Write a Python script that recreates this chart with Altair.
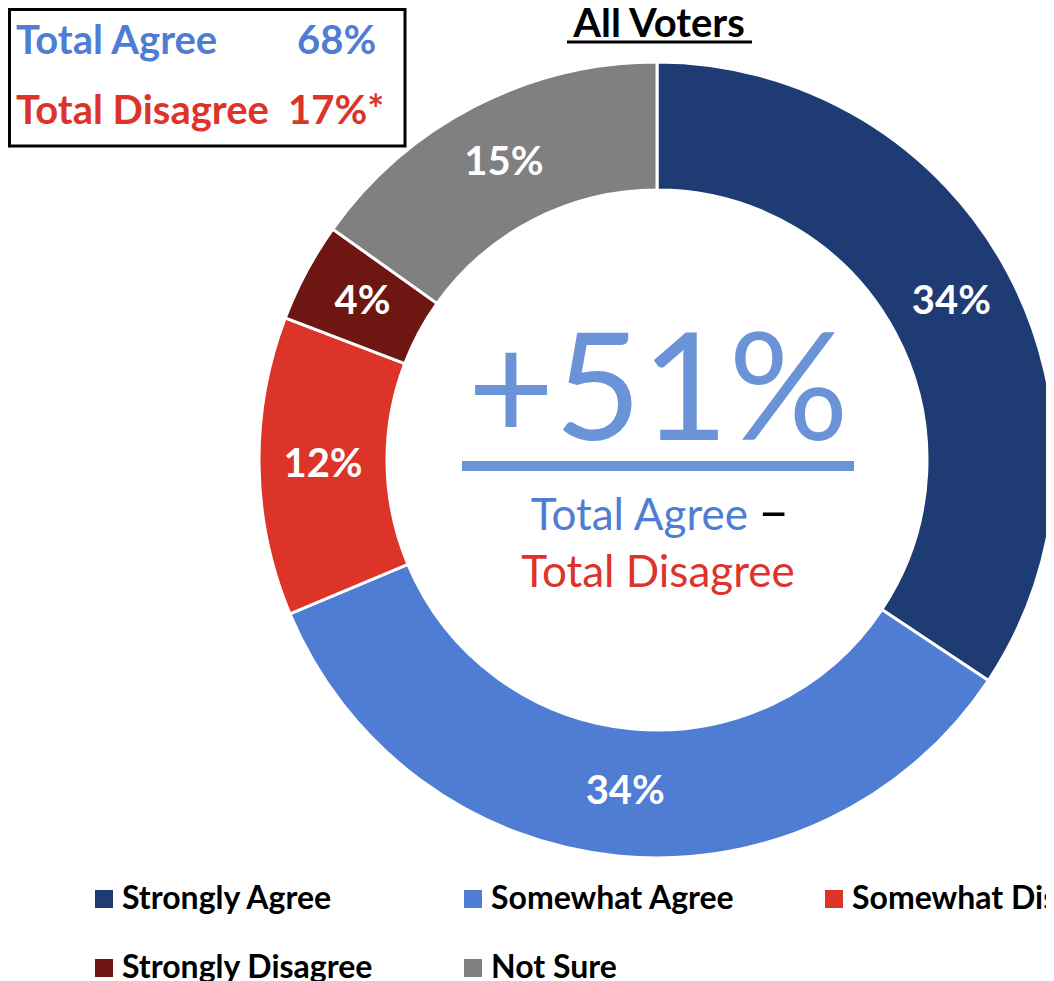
import altair as alt
import pandas as pd

# ---- data ----
categories = ["Strongly Agree", "Somewhat Agree", "Somewhat Disagree", "Strongly Disagree", "Not Sure"]
values = [34, 34, 12, 4, 15]
colors = ["#1F3B73", "#4E7DD3", "#DD3429", "#6E1712", "#808080"]
# legend is laid out column by column: col1 = SA/StD, col2 = SwA/NS, col3 = SwD
legend_order = ["Strongly Agree", "Strongly Disagree", "Somewhat Agree", "Not Sure", "Somewhat Disagree"]

title_text = "All Voters"
box_labels = ["Total Agree", "Total Disagree"]
box_values = ["68%", "17%*"]
net_text = "+51%"
sub_agree = "Total Agree"
sub_dash = "–"
sub_disagree = "Total Disagree"

FONT = "Lato"
BLUE = "#4E7DD3"
LIGHTBLUE = "#6A93D8"
RED = "#DD3429"

df = pd.DataFrame({
    "cat": categories,
    "value": values,
    "idx": list(range(len(categories))),
    "label": [f"{v}%" for v in values],
})

CX, CY = 649, 452

color_scale = alt.Scale(domain=categories, range=colors)

arcs = alt.Chart(df).mark_arc(
    outerRadius=398, innerRadius=270, stroke="white", strokeWidth=3
).encode(
    theta=alt.Theta("value:Q", stack=True),
    order=alt.Order("idx:Q"),
    color=alt.Color(
        "cat:N", scale=color_scale,
        legend=alt.Legend(
            title=None, orient="none", legendX=80, legendY=875,
            values=legend_order,
            columns=3, symbolType="square", symbolSize=324,
            symbolStrokeWidth=0, labelFont=FONT, labelFontSize=32,
            labelFontWeight="bold", labelColor="black", labelOffset=2,
            columnPadding=83, rowPadding=37, labelLimit=400, padding=0,
        ),
    ),
    x=alt.value(CX), y=alt.value(CY),
)

arc_labels = alt.Chart(df).mark_text(
    radius=334, font=FONT, fontSize=40, fontWeight="bold", color="white",
    align="center", baseline="middle",
).encode(
    theta=alt.Theta("value:Q", stack=True),
    order=alt.Order("idx:Q"),
    text="label:N",
    x=alt.value(CX), y=alt.value(CY),
)


def txt(text, x, y, size, color, weight="normal", align="left"):
    return alt.Chart(pd.DataFrame({"t": [text]})).mark_text(
        font=FONT, fontSize=size, fontWeight=weight, color=color,
        align=align, baseline="alphabetic",
    ).encode(text="t:N", x=alt.value(x), y=alt.value(y))


def rule(x1, x2, y, w, color):
    return alt.Chart(pd.DataFrame({"a": [0]})).mark_rule(
        color=color, strokeWidth=w
    ).encode(x=alt.value(x1), x2=alt.value(x2), y=alt.value(y))


title = txt(title_text, 651, 29, 40, "black", "bold", "center")
title_ul = rule(559, 744, 34, 3, "black")

box = alt.Chart(pd.DataFrame({"a": [0]})).mark_rect(
    fill="white", stroke="black", strokeWidth=3
).encode(x=alt.value(1.5), x2=alt.value(397), y=alt.value(1.5), y2=alt.value(138))

b1 = txt(box_labels[0], 8, 46, 40, BLUE, "bold")
b2 = txt(box_values[0], 289, 46, 40, BLUE, "bold")
b3 = txt(box_labels[1], 8, 116, 40, RED, "bold")
b4 = txt(box_values[1], 280, 116, 40, RED, "bold")

net = txt(net_text, 650, 432, 150, LIGHTBLUE, "normal", "center")
net_ul = rule(454, 846, 458, 10, LIGHTBLUE)
sub1 = txt(sub_agree, 740, 522, 44, BLUE, "normal", "right")
sub2_dash = txt(sub_dash, 750, 522, 54, "black", "normal", "left")
sub2 = txt(sub_disagree, 650, 579, 44, RED, "normal", "center")

chart = alt.layer(
    arcs, arc_labels, title, title_ul, box, b1, b2, b3, b4,
    net, net_ul, sub1, sub2_dash, sub2,
).properties(
    width=1038, height=973, padding=0,
    autosize=alt.AutoSizeParams(type="none"),
).configure_view(stroke=None)

chart.save("out.html", embed_options={"renderer": "svg", "actions": False})
